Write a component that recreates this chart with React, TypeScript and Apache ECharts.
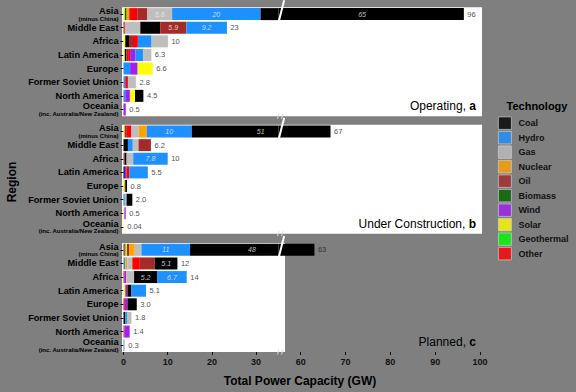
import React, { useEffect, useRef } from 'react';
import * as echarts from 'echarts';

// ---------- data ----------
const techs = ['Coal', 'Hydro', 'Gas', 'Nuclear', 'Oil', 'Biomass', 'Wind', 'Solar', 'Geothermal', 'Other'];
const techColors = ['#000000', '#1E90FF', '#BEBEBE', '#FFA500', '#A52A2A', '#006400', '#A020F0', '#FFFF00', '#00FF00', '#FF0000'];
const regions = ['Asia', 'Middle East', 'Africa', 'Latin America', 'Europe', 'Former Soviet Union', 'North America', 'Oceania'];
const regionNotes = ['(minus China)', '', '', '', '', '', '', '(inc. Australia/New Zealand)'];
const panelTitles = ['Operating, ', 'Under Construction, ', 'Planned, '];
const panelLetters = ['a', 'b', 'c'];
const leftTicks = [0, 10, 20, 30];
const rightTicks = [60, 70, 80, 90, 100];

// columns: Coal, Hydro, Gas, Nuclear, Oil, Biomass, Wind, Solar, Geothermal, Other (GW)
const operating: number[][] = [
  [65.4, 20, 5.6, 0.6, 2.3, 0.4, 0, 0.3, 0, 1.8],
  [4.5, 9.2, 3.5, 0, 5.9, 0, 0, 0, 0, 0.3],
  [0.85, 3.1, 3.7, 0, 0.9, 0, 0, 0.4, 0, 1.1],
  [0.35, 1.7, 1.9, 0, 0.4, 0, 1.2, 0.3, 0, 0.45],
  [0, 1.5, 0, 0, 0, 0, 1.7, 3.4, 0, 0],
  [0, 0.4, 1.8, 0, 0, 0, 0, 0, 0, 0.6],
  [1.9, 0.4, 0, 0, 0, 0, 1.05, 1.15, 0, 0],
  [0, 0, 0, 0, 0, 0, 0.5, 0, 0, 0],
];
const underConstruction: number[][] = [
  [51.2, 10.2, 1.7, 1.75, 0.5, 0, 0, 0.25, 0, 1.05],
  [1.0, 1.1, 1.3, 0, 2.8, 0, 0, 0, 0, 0],
  [0.4, 7.8, 1.5, 0, 0.3, 0, 0, 0, 0, 0],
  [0.3, 4.2, 0, 0, 0, 0, 0.4, 0, 0, 0.6],
  [0.4, 0, 0, 0.25, 0, 0, 0, 0.15, 0, 0],
  [1.3, 0.3, 0.4, 0, 0, 0, 0, 0, 0, 0],
  [0, 0, 0, 0, 0, 0, 0.3, 0.2, 0, 0],
  [0, 0, 0, 0, 0, 0, 0, 0.04, 0, 0],
];
const planned: number[][] = [
  [48, 11, 1.5, 1.3, 0.5, 0.26, 0, 0.28, 0, 0.22],
  [5.1, 0.4, 1.1, 0.5, 3.4, 0, 0, 0, 0, 1.7],
  [5.2, 6.7, 1.8, 0, 0, 0, 0.35, 0, 0, 0.25],
  [0.9, 3.3, 0, 0, 0, 0, 0.5, 0.4, 0, 0],
  [2.1, 0, 0, 0, 0, 0, 0.6, 0, 0, 0.3],
  [0.4, 0.5, 0.9, 0, 0, 0, 0, 0, 0, 0],
  [0, 0, 0, 0, 0, 0, 1.2, 0, 0, 0.2],
  [0, 0.1, 0.2, 0, 0, 0, 0, 0, 0, 0],
];

// ---------- layout ----------
const BREAK_LO = 35;
const BREAK_HI = 55;
const X_MAX = 100;
const X0 = 123.5;
const LEFT_W = 154.7;
const RIGHT_X = 278.3;
const RIGHT_W = 201.7;
const PANEL_TOPS = [7.3, 124.7, 243];
const PANEL_H = 109;
const BAR_W = 12;
const BG = '#7f7f7f';
const FONT = 'Liberation Sans, Arial, Helvetica, sans-serif';

const toDisp = (v: number) => (v <= BREAK_LO ? v : v >= BREAK_HI ? v - (BREAK_HI - BREAK_LO) : BREAK_LO);
const fromDisp = (d: number) => (d <= BREAK_LO ? d : d + (BREAK_HI - BREAK_LO));
const fmtTotal = (t: number) => (t >= 9.95 ? String(Math.round(t)) : t >= 0.095 ? t.toFixed(1) : t.toFixed(2));
const fmtSeg = (v: number) => (v >= 10 ? String(Math.round(v)) : v.toFixed(1));

function buildOption() {
  const panels = [operating, underConstruction, planned];
  const grids: any[] = [];
  const xAxes: any[] = [];
  const yAxes: any[] = [];
  const series: any[] = [];
  const graphics: any[] = [];

  panels.forEach((rows, p) => {
    const top = PANEL_TOPS[p];
    graphics.push({
      type: 'rect', z: -10, silent: true,
      shape: { x: 122, y: top, width: p === 2 ? 163 : 360, height: PANEL_H },
      style: { fill: '#ffffff' },
    });

    [0, 1].forEach((g) => {
      const idx = p * 2 + g;
      grids.push({ left: g === 0 ? X0 : RIGHT_X, top, width: g === 0 ? LEFT_W : RIGHT_W, height: PANEL_H, containLabel: false });
      xAxes.push({
        type: 'value', gridIndex: idx,
        min: g === 0 ? 0 : BREAK_HI, max: g === 0 ? BREAK_LO : X_MAX,
        show: p === 2,
        splitLine: { show: false },
        axisLine: { show: false },
        axisTick: { show: true, length: 3, customValues: g === 0 ? leftTicks : rightTicks, lineStyle: { color: '#111', width: 1 } },
        axisLabel: { customValues: g === 0 ? leftTicks : rightTicks, fontSize: 9, fontWeight: 'bold', color: '#111', margin: 5, fontFamily: FONT },
      });
      yAxes.push({
        type: 'category', gridIndex: idx, data: regions, inverse: true, show: g === 0,
        axisLine: { show: false },
        splitLine: { show: false },
        axisTick: { show: true, length: 3, alignWithLabel: true, lineStyle: { color: '#000', width: 1 } },
        axisLabel: {
          margin: 5, color: '#000', fontSize: 9.2, fontWeight: 'bold', fontFamily: FONT, align: 'right',
          formatter: (val: string, i: number) => (regionNotes[i] ? `{m|${val}}\n{s|${regionNotes[i]}}` : `{m|${val}}`),
          rich: {
            m: { fontSize: 9.2, fontWeight: 'bold', color: '#000', lineHeight: 9, align: 'right', fontFamily: FONT },
            s: { fontSize: 6, fontWeight: 'bold', color: '#000', lineHeight: 6.5, align: 'right', fontFamily: FONT },
          },
        },
      });
    });

    const stacks = rows.map((vals) =>
      vals.map((v, t) => ({ t, v })).filter((d) => d.v > 0).sort((a, b) => a.v - b.v)
    );
    const maxRank = Math.max(...stacks.map((s) => s.length));
    [0, 1].forEach((g) => {
      const idx = p * 2 + g;
      for (let r = 0; r < maxRank; r++) {
        series.push({
          type: 'bar', xAxisIndex: idx, yAxisIndex: idx, stack: `p${p}g${g}`, barWidth: BAR_W, silent: true,
          data: stacks.map((s) => (s[r] ? { value: s[r].v, itemStyle: { color: techColors[s[r].t] } } : 0)),
        });
      }
    });

    const segLabels: any[][] = [[], []];
    const totLabels: any[][] = [[], []];
    stacks.forEach((s, ri) => {
      let cum = 0;
      s.forEach((d) => {
        const start = cum;
        cum += d.v;
        if (d.v >= 5) {
          const c = fromDisp((toDisp(start) + toDisp(cum)) / 2);
          segLabels[c <= BREAK_LO ? 0 : 1].push({ name: fmtSeg(d.v), value: [c, ri] });
        }
      });
      totLabels[cum <= BREAK_LO ? 0 : 1].push({ name: fmtTotal(cum), value: [cum, ri] });
    });
    [0, 1].forEach((g) => {
      const idx = p * 2 + g;
      series.push({
        type: 'scatter', xAxisIndex: idx, yAxisIndex: idx, symbolSize: 1, silent: true, z: 6,
        itemStyle: { color: 'rgba(0,0,0,0)' },
        data: segLabels[g],
        label: { show: true, position: 'inside', formatter: '{b}', fontSize: 7, fontStyle: 'italic', color: '#eeeeee', fontFamily: FONT },
      });
      series.push({
        type: 'scatter', xAxisIndex: idx, yAxisIndex: idx, symbolSize: 1, silent: true, z: 6,
        itemStyle: { color: 'rgba(0,0,0,0)' },
        data: totLabels[g],
        label: { show: true, position: 'right', distance: 3, formatter: '{b}', fontSize: 7.5, color: '#1a1a1a', fontFamily: FONT },
      });
    });

    graphics.push({
      type: 'text', z: 50, silent: true,
      style: {
        x: 476, y: top + PANEL_H - 10, align: 'right', verticalAlign: 'middle',
        text: `{n|${panelTitles[p]}}{b|${panelLetters[p]}}`,
        rich: {
          n: { fontSize: 12, fontFamily: FONT, fill: '#000' },
          b: { fontSize: 12, fontFamily: FONT, fontWeight: 'bold', fill: '#000' },
        },
      },
    });

    const barTop = top + PANEL_H / regions.length / 2 - BAR_W / 2;
    const barBottom = barTop + BAR_W;
    const yEnd = top - 7;
    graphics.push({
      type: 'line', z: 50, silent: true,
      shape: { x1: 279, y1: barBottom + 0.5, x2: 279 + (barBottom - yEnd) * 0.26, y2: yEnd },
      style: { stroke: '#ffffff', lineWidth: 2 },
    });
    const bottom = top + PANEL_H;
    [277.5, 281.5].forEach((bx) => {
      graphics.push({
        type: 'line', z: 50, silent: true,
        shape: { x1: bx, y1: bottom + 2.5, x2: bx + 1.5, y2: bottom - 2.5 },
        style: { stroke: '#dddddd', lineWidth: 1 },
      });
    });
  });

  techs.forEach((t, i) => {
    series.push({ type: 'scatter', name: t, data: [], xAxisIndex: 0, yAxisIndex: 0, itemStyle: { color: techColors[i] } });
  });

  graphics.push(
    {
      type: 'text', z: 50, silent: true,
      style: { x: 300, y: 381, align: 'center', verticalAlign: 'middle', text: 'Total Power Capacity (GW)', fontSize: 12, fontWeight: 'bold', fontFamily: FONT, fill: '#000' },
    },
    {
      type: 'text', z: 50, silent: true, x: 12, y: 182, rotation: Math.PI / 2,
      style: { x: 0, y: 0, align: 'center', verticalAlign: 'middle', text: 'Region', fontSize: 12, fontWeight: 'bold', fontFamily: FONT, fill: '#000' },
    },
    {
      type: 'text', z: 50, silent: true,
      style: { x: 537, y: 106, align: 'center', verticalAlign: 'middle', text: 'Technology', fontSize: 11, fontWeight: 'bold', fontFamily: FONT, fill: '#000' },
    }
  );

  return {
    animation: false,
    backgroundColor: BG,
    textStyle: { fontFamily: FONT },
    grid: grids,
    xAxis: xAxes,
    yAxis: yAxes,
    series,
    graphic: { elements: graphics },
    legend: {
      data: techs,
      orient: 'vertical',
      left: 498,
      top: 116.5,
      itemWidth: 13,
      itemHeight: 12.5,
      itemGap: 1.2,
      icon: 'rect',
      selectedMode: false,
      padding: 0,
      itemStyle: { borderColor: '#d4d4d4', borderWidth: 0.8 },
      textStyle: { fontSize: 9, fontWeight: 'bold', color: '#111', fontFamily: FONT, padding: [0, 0, 0, 2] },
    },
  };
}

export default function App() {
  const ref = useRef<HTMLDivElement>(null);
  useEffect(() => {
    document.body.style.margin = '0';
    const chart = echarts.init(ref.current!, null, { renderer: 'svg' });
    chart.setOption(buildOption() as any);
    return () => chart.dispose();
  }, []);
  return <div ref={ref} style={{ width: 576, height: 392, background: BG }} />;
}
